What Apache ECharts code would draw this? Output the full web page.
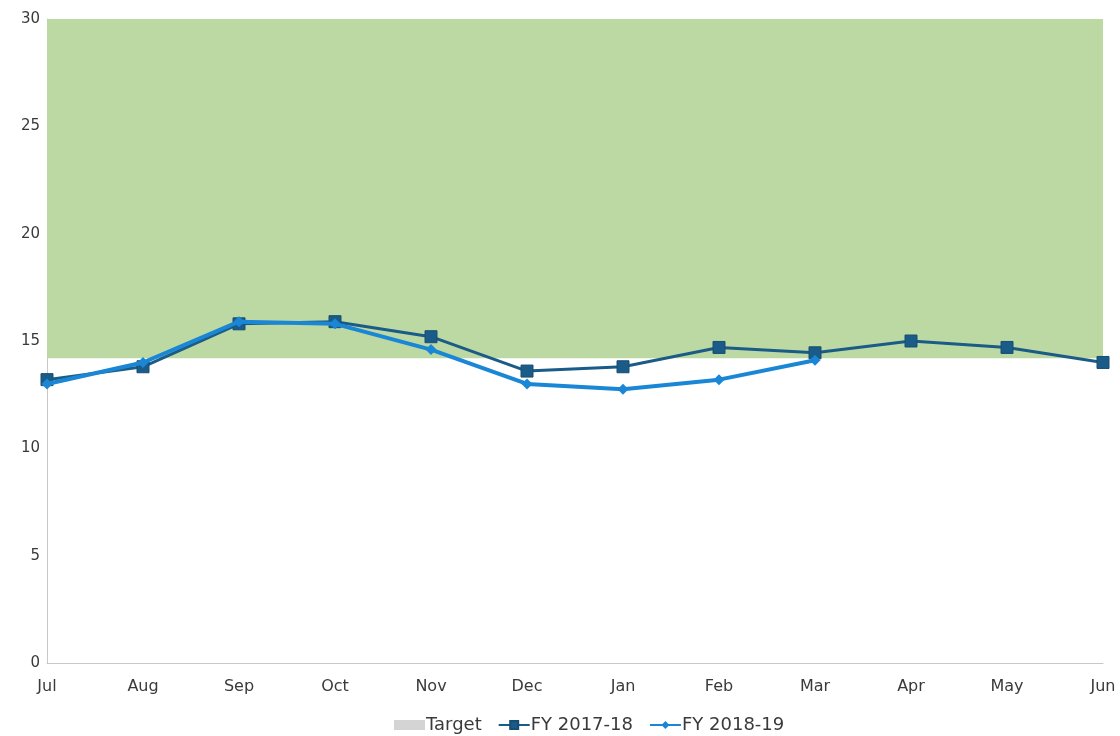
<!DOCTYPE html>
<html>
<head>
<meta charset="utf-8">
<script src="https://cdn.jsdelivr.net/npm/echarts@6/dist/echarts.min.js"></script>
<style>
  html, body { margin: 0; padding: 0; background: #ffffff; }
  #chart { width: 1120px; height: 736px; }
</style>
</head>
<body>
<div id="chart"></div>
<script>
// Month categories (financial year order)
const months = ['Jul', 'Aug', 'Sep', 'Oct', 'Nov', 'Dec', 'Jan', 'Feb', 'Mar', 'Apr', 'May', 'Jun'];

// Monthly results per financial year
const fy2017_18 = [13.2, 13.8, 15.8, 15.9, 15.2, 13.6, 13.8, 14.7, 14.45, 15.0, 14.7, 14.0];
const fy2018_19 = [13.0, 14.0, 15.9, 15.8, 14.6, 13.0, 12.75, 13.2, 14.1];

// Target band (lower and upper bound)
const targetLow = 14.2;
const targetHigh = 30;

// Value axis
const yMin = 0;
const yMax = 30;
const yStep = 5;

const fontFamily = '"DejaVu Sans", Lato, sans-serif';

const chart = echarts.init(document.getElementById('chart'), null, { renderer: 'canvas' });

chart.setOption({
  backgroundColor: '#ffffff',
  animation: false,
  textStyle: { fontFamily: fontFamily },
  grid: { left: 47, right: 17, top: 19, bottom: 73, containLabel: false },
  legend: {
    top: 716,
    left: 394,
    padding: 0,
    itemGap: 16,
    itemWidth: 31,
    itemHeight: 10,
    textStyle: { fontSize: 18, color: '#3a3a3a', fontFamily: fontFamily, padding: [0, 0, 0, -4] },
    data: [
      { name: 'Target', icon: 'rect', itemStyle: { color: '#d4d4d4' } },
      { name: 'FY 2017-18' },
      { name: 'FY 2018-19' }
    ]
  },
  xAxis: {
    type: 'category',
    data: months,
    boundaryGap: false,
    axisLine: { show: true, lineStyle: { color: '#c8c8c8', width: 1 } },
    axisTick: { show: false },
    axisLabel: { color: '#3a3a3a', fontSize: 16, margin: 16, fontFamily: fontFamily },
    splitLine: { show: false }
  },
  yAxis: {
    type: 'value',
    min: yMin,
    max: yMax,
    interval: yStep,
    axisLine: { show: true, lineStyle: { color: '#c8c8c8', width: 1 } },
    axisTick: { show: false },
    axisLabel: { color: '#3a3a3a', fontSize: 15, margin: 7, fontFamily: fontFamily },
    splitLine: { show: false }
  },
  series: [
    {
      name: 'Target',
      type: 'line',
      data: [],
      itemStyle: { color: '#d4d4d4' },
      markArea: {
        silent: true,
        itemStyle: { color: '#bdd9a3', opacity: 1 },
        data: [[{ yAxis: targetLow }, { yAxis: targetHigh }]]
      },
      z: 1
    },
    {
      name: 'FY 2017-18',
      type: 'line',
      data: fy2017_18,
      symbol: 'rect',
      symbolSize: 12,
      lineStyle: { color: '#1b5b87', width: 3 },
      itemStyle: { color: '#1b5b87', borderColor: '#174e74', borderWidth: 1 },
      z: 3
    },
    {
      name: 'FY 2018-19',
      type: 'line',
      data: fy2018_19,
      symbol: 'diamond',
      symbolSize: 11,
      lineStyle: { color: '#1a86d6', width: 4 },
      itemStyle: { color: '#1a86d6' },
      z: 4
    }
  ]
});
</script>
</body>
</html>
